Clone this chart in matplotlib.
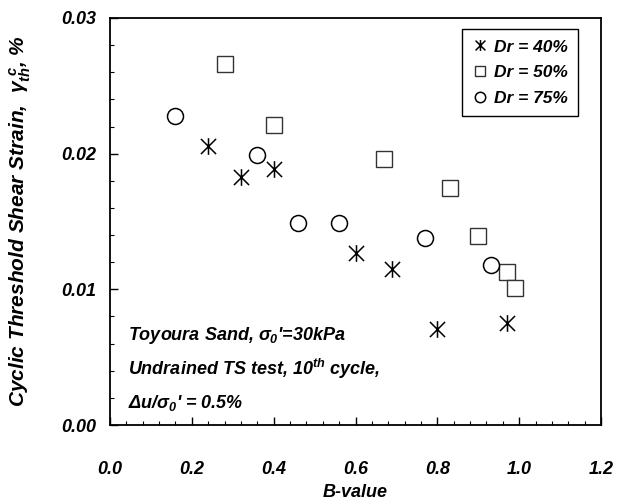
import numpy as np
import matplotlib
matplotlib.use("Agg")
import matplotlib.pyplot as plt
from matplotlib.path import Path
from matplotlib.ticker import MultipleLocator, FormatStrFormatter

plt.rcParams['font.family'] = ['Liberation Sans', 'DejaVu Sans']
plt.rcParams['font.weight'] = 'bold'
plt.rcParams['font.style'] = 'italic'
plt.rcParams['axes.labelweight'] = 'bold'
plt.rcParams['mathtext.fontset'] = 'custom'
plt.rcParams['mathtext.rm'] = 'Liberation Sans:bold:italic'
plt.rcParams['mathtext.it'] = 'Liberation Sans:bold:italic'
plt.rcParams['mathtext.bf'] = 'Liberation Sans:bold:italic'

# datos leidos: B-value vs deformacion umbral ciclica
b_dr40 = [0.24, 0.32, 0.40, 0.60, 0.69, 0.80, 0.97]
g_dr40 = [0.0206, 0.0183, 0.0189, 0.0127, 0.0115, 0.0071, 0.0075]

b_dr50 = [0.28, 0.40, 0.67, 0.83, 0.90, 0.97, 0.99]
g_dr50 = [0.0266, 0.0221, 0.0196, 0.0175, 0.0139, 0.0113, 0.0101]

b_dr75 = [0.16, 0.36, 0.46, 0.56, 0.77, 0.93]
g_dr75 = [0.0228, 0.0199, 0.0149, 0.0149, 0.0138, 0.0118]

etiquetas = ['Dr = 40%', 'Dr = 50%', 'Dr = 75%']

# asterisco: dos diagonales y una vertical
asterisco = Path([(-1, -1), (1, 1), (-1, 1), (1, -1), (0, -1.1), (0, 1.1)],
                 [Path.MOVETO, Path.LINETO, Path.MOVETO, Path.LINETO,
                  Path.MOVETO, Path.LINETO])

fig = plt.figure(figsize=(6.22, 5.0), dpi=100)
ax = fig.add_axes([110/622, 75/500, 491/622, 407/500])

ax.plot(b_dr40, g_dr40, linestyle='none', marker=asterisco, markersize=12,
        markeredgecolor='black', markeredgewidth=1.1, label=etiquetas[0])
ax.plot(b_dr50, g_dr50, linestyle='none', marker='s', markersize=11,
        markerfacecolor='white', markeredgecolor='#333333', markeredgewidth=1.0,
        label=etiquetas[1])
ax.plot(b_dr75, g_dr75, linestyle='none', marker='o', markersize=11.5,
        markerfacecolor='white', markeredgecolor='black', markeredgewidth=1.1,
        label=etiquetas[2])

ax.set_xlim(0, 1.2)
ax.set_ylim(0, 0.03)
ax.xaxis.set_major_locator(MultipleLocator(0.2))
ax.xaxis.set_minor_locator(MultipleLocator(0.04))
ax.yaxis.set_major_locator(MultipleLocator(0.01))
ax.yaxis.set_minor_locator(MultipleLocator(0.002))
ax.xaxis.set_major_formatter(FormatStrFormatter('%.1f'))
ax.yaxis.set_major_formatter(FormatStrFormatter('%.2f'))
ax.tick_params(which='both', direction='in', labelsize=13)
ax.tick_params(which='major', length=6, width=1)
ax.tick_params(which='minor', length=3, width=0.8)
ax.tick_params(axis='x', pad=26)
ax.tick_params(axis='y', pad=10)
for s in ax.spines.values():
    s.set_linewidth(1.3)

ax.set_xlabel('B-value', fontsize=13, va='center')
ax.xaxis.set_label_coords(0.5, -0.167)
ax.set_ylabel(r'Cyclic Threshold Shear Strain,  $\gamma_{th}^{\ c}$, %',
              fontsize=15, va='center')
ax.yaxis.set_label_coords(-0.183, 0.5)

# condiciones del ensayo
ax.text(0.044, 0.0066, "Toyoura Sand, $\\sigma_0$'=30kPa", fontsize=13, va='center')
ax.text(0.044, 0.0041, 'Undrained TS test, 10$^{th}$ cycle,', fontsize=13, va='center')
ax.text(0.044, 0.00165, "$\\Delta$u/$\\sigma_0$' = 0.5%", fontsize=13, va='center')

leg = ax.legend(loc='upper right', bbox_to_anchor=(0.953, 0.973), fontsize=12.5,
                markerscale=0.65, handlelength=0.8, handletextpad=0.4,
                fancybox=False, framealpha=1, edgecolor='black',
                borderpad=0.6, labelspacing=0.6, borderaxespad=0)
leg.get_frame().set_linewidth(1.0)

fig.savefig('out.png', dpi=100)
